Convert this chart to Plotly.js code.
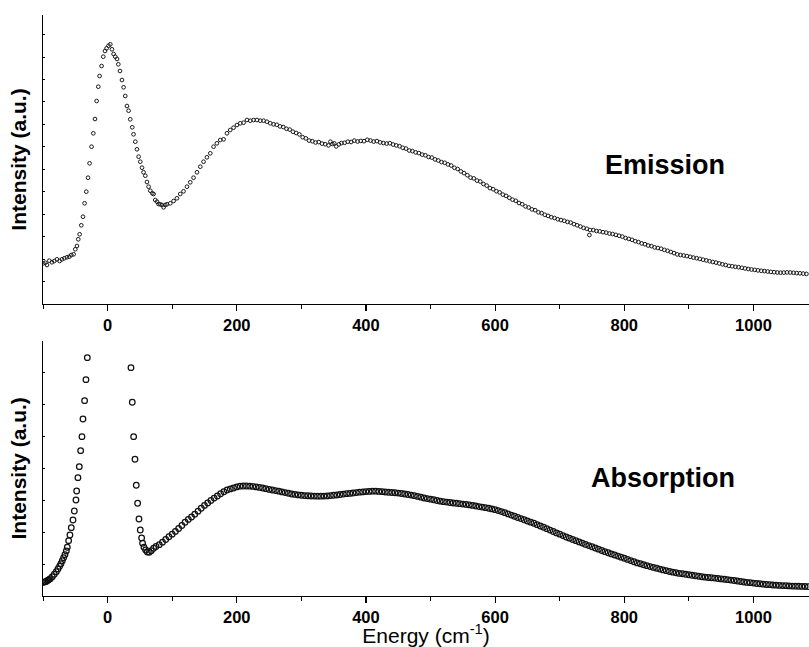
<!DOCTYPE html>
<html>
<head>
<meta charset="utf-8">
<script src="https://cdn.plot.ly/plotly-3.0.1.min.js"></script>
<style>html,body{margin:0;padding:0;background:#fff;}#chart{width:809px;height:647px;}</style>
</head>
<body>
<div id="chart"></div>
<script>
// ---------- Emission spectrum (upper panel) ----------
const emissionEnergy = [
-99.6,-96.4,-93.8,-90.2,-86.1,-82.5,-78.4,-74.3,-70.6,-67,-62.9,-59.3,-56.2,-52.6,-50,-47.4,-45.4,-43.3,-40.7,-38.1,
-35.6,-33,-30.3,-27.9,-24.8,-22.1,-19.5,-17,-14.4,-12.4,-9.3,-6.7,-4,-1.5,1.5,4.2,6.8,9.3,11.9,14.6,
16.6,19.2,22.3,24.8,27.4,30,32.5,35.1,38.2,40.2,42.9,45.5,48,50.6,53.3,55.7,58.4,61,63.5,66.1,
69.2,71.2,73.8,76.5,78.9,81.6,84.2,86.7,89.3,91.9,97.1,102.2,107.4,112.5,117.6,122.9,128,133.1,138.4,143.5,
148.6,153.8,159,164.1,169.3,174.5,179.6,184.8,189.9,195,200.3,205.4,210.5,215.8,220.9,226,231.3,236.4,241.5,246.7,
251.9,257,
262,267,272,277,282,287,292,297,302,307,312,317,322,327,332,337,342,345,348,351,354,358,362,367,372,377,382,387,392,397,
402,407,412,417,422,427,432,437,442,447,452,457,462,467,472,477,482,487,492,497,
502,507,512,517,522,527,532,537,542,547,552,557,562,567,572,577,582,587,592,597,
602,607,612,617,622,627,632,637,642,647,652,657,662,667,672,677,682,687,692,697,
702,707,712,717,722,727,732,737,742,746,747,752,757,762,767,772,777,782,787,792,797,
802,807,812,817,822,827,832,837,842,847,852,857,862,867,872,877,882,887,892,897,
902,907,912,917,922,927,932,937,942,947,952,957,962,967,972,977,982,987,992,997,
1002,1007,1012,1017,1022,1027,1032,1037,1042,1047,1052,1057,1062,1067,1072,1077,1082
];
const emissionIntensity = [
40.7,41.3,39,43.3,41.7,43,44.7,43,44.7,45.7,46.7,47.3,49,49.7,54.7,58,64.7,69.7,78.7,87.3,
100.7,112.3,126.3,140.7,157.3,170.7,185,203,217.3,228,238,247.3,253,255.7,258.3,259.7,254.7,250,247.3,245,
239.7,233,224,216.7,208,198,193.3,184.7,176.7,169.7,162.3,154.7,147.3,142.3,136.3,131.7,128.3,122,117.3,113.3,
110.7,110,104,102.3,100,99.7,99,96.7,99,99.7,100.7,103,105.7,110,112.7,117.3,121.7,126.3,131.7,137.3,
142.3,146.7,150.7,157.3,160.7,164,164.7,170.7,174,176.3,179,180.7,181.3,184,183.3,184,184,183.3,183.3,182.3,
180.7,179.7,
179.2,177.6,177.0,175.2,174.4,172.3,171.0,169.6,166.8,165.6,163.4,162.8,161.5,161.9,160.4,159.8,158.6,162.3,160.0,160.6,157.6,159.6,160.9,161.2,162.3,162.0,163.4,162.5,163.1,162.8,
164.2,163.5,162.4,162.9,161.6,161.0,160.4,160.8,159.5,158.6,157.8,156.2,155.4,153.5,152.9,151.6,150.9,149.4,148.7,147.0,
146.4,144.6,143.5,141.9,141.2,139.6,138.5,136.2,135.0,132.6,130.9,128.8,126.4,125.6,123.4,122.5,120.0,118.4,115.9,114.8,
112.8,111.6,109.4,108.1,106.2,104.3,103.2,101.0,99.8,97.6,96.5,94.6,93.8,91.7,90.9,89.2,88.1,86.8,86.0,84.7,
83.9,83.2,82.1,81.4,79.9,78.7,77.5,76.1,75.2,69.0,74.0,73.9,73.0,72.6,71.8,71.4,70.5,70.0,69.1,68.3,67.4,
66.0,65.1,64.2,62.8,61.9,60.6,59.8,58.5,57.9,56.6,56.0,55.3,54.1,53.2,52.0,50.9,49.6,49.0,48.5,47.9,
47.2,46.4,45.8,45.1,44.3,43.6,42.8,42.0,41.4,40.6,39.7,39.0,38.1,37.7,37.2,36.8,36.2,35.6,35.0,34.5,
34.1,33.6,33.2,32.9,32.5,32.1,31.8,31.5,31.3,31.4,31.6,31.5,31.2,30.9,30.7,30.4,30.1
];

// ---------- Absorption spectrum (lower panel) ----------
const absorptionEnergy = [
-99.5,-97.7,-95.9,-94.1,-92.3,-90.5,-88.7,-85.6,-82.5,-79.4,-76.8,-74.3,-72.2,-70.1,-68.1,-66,-63.9,-62.4,-60.3,-58.3,
-56.2,-53.6,-51.5,-49,-47.9,-45.9,-43.8,-41.7,-39.7,-38.1,-35.6,-33.5,-31.4,
36.2,38.2,40.3,42.4,44.4,46.5,48.6,50.6,52.7,54.2,56.3,58.9,61.5,64.6,67.6,71.3,
75,80,85,90,95,100,105,110,115,120,125,130,135,140,145,150,155,160,165,170,
175,180,185,190,195,200,205,210,215,220,225,230,235,240,245,250,255,260,265,270,
275,280,285,290,295,300,305,310,315,320,325,330,335,340,345,350,355,360,365,370,
375,380,385,390,395,400,405,410,415,420,425,430,435,440,445,450,455,460,465,470,
475,480,485,490,495,500,505,510,515,520,525,530,535,540,545,550,555,560,565,570,
575,580,585,590,595,600,605,610,615,620,625,630,635,640,645,650,655,660,665,670,
675,680,685,690,695,700,705,710,715,720,725,730,735,740,745,750,755,760,765,770,
775,780,785,790,795,800,805,810,815,820,825,830,835,840,845,850,855,860,865,870,
875,880,885,890,895,900,905,910,915,920,925,930,935,940,945,950,955,960,965,970,
975,980,985,990,995,1000,1005,1010,1015,1020,1025,1030,1035,1040,1045,1050,1055,1060,1065,1070,
1075,1080,1085
];
const absorptionIntensity = [
13.7,13.9,14.3,14.9,15.7,16.4,17.3,19.3,21.7,24.3,27,29.7,32.3,35.3,38.3,41.3,45,48.7,55.3,61,
68.3,76,85,96,105,118.3,129.3,145.3,159.3,177,195.3,216.3,238.3,
228.3,193.7,159.3,136.7,110.7,92.7,77,66,58,52.7,48.7,46,44,43.7,45.3,47.7,
49.5,51.3,53.8,56.5,59.2,61.8,64.6,67.5,70.5,73.7,76.6,79,81.7,84.8,87.7,90.6,93,95.5,97.9,100,
102.2,104.2,106,107.1,108,109.1,109.8,110,110,109.8,109.6,109.1,108.6,108,107.3,106.6,106,105.4,104.8,104.1,
103.4,102.7,102,101.6,101.1,100.7,100.4,100.2,100,99.9,99.8,99.8,99.9,100.1,100.4,100.7,101,101.5,101.9,102.3,
102.6,103,103.4,103.8,104.1,104.4,104.6,104.8,104.8,104.6,104.3,104,103.7,103.5,103.2,102.9,102.5,102,101.5,100.9,
100.3,99.6,98.8,98,97.4,96.8,96.2,95.5,94.8,94.3,93.9,93.5,93,92.7,92.3,91.9,91.6,91.1,90.6,90,
89.4,88.9,88.3,87.7,87.1,86.3,85.4,84.4,83.3,82.1,80.8,79.7,78.5,77.4,76.2,75,73.8,72.7,71.3,70,
68.7,67.3,65.9,64.5,63.1,61.8,60.4,59,57.8,56.5,55.3,54.1,52.9,51.6,50.4,49.2,48,46.8,45.5,44.3,
43.2,42.1,41,39.9,38.8,37.7,36.6,35.4,34.2,33.1,32.2,31.2,30.3,29.4,28.6,27.7,26.9,26.1,25.3,24.5,
23.8,23.2,22.6,22.2,21.7,21.2,20.7,20.2,19.7,19.2,18.8,18.5,18.2,17.9,17.5,17.1,16.7,16.3,15.9,15.5,
15,14.5,14,13.6,13.3,12.9,12.5,12.2,11.8,11.5,11.3,11,10.8,10.6,10.4,10.3,10.1,9.9,9.8,9.7,
9.6,9.5,9.4
];

const xTickVals = [0, 200, 400, 600, 800, 1000];
const xTickText = ['0', '200', '400', '600', '800', '1000'];
const panelLabels = ['Emission', 'Absorption'];
const yTitle = 'Intensity (a.u.)';
const xTitle = 'Energy (cm<sup>-1</sup>)';

const FONT = 'Liberation Sans, Arial, Helvetica, sans-serif';

const traces = [
  {
    x: emissionEnergy, y: emissionIntensity, xaxis: 'x', yaxis: 'y',
    type: 'scatter', mode: 'markers', name: panelLabels[0],
    marker: {symbol: 'circle-open', size: 3.7, color: '#1a1a1a', line: {width: 1, color: '#1a1a1a'}},
    hoverinfo: 'x+y'
  },
  {
    x: absorptionEnergy, y: absorptionIntensity, xaxis: 'x2', yaxis: 'y2',
    type: 'scatter', mode: 'markers', name: panelLabels[1],
    marker: {symbol: 'circle-open', size: 5.6, color: '#111', line: {width: 1.25, color: '#111'}},
    hoverinfo: 'x+y'
  }
];

const xCommon = {
  range: [-100, 1086], showgrid: false, zeroline: false,
  showline: true, linecolor: '#000', linewidth: 1.2, mirror: false,
  ticks: 'outside', ticklen: 6, tickwidth: 1.2, tickcolor: '#000',
  tickmode: 'array', tickvals: xTickVals, ticktext: xTickText,
  minor: {tickmode: 'linear', tick0: 100, dtick: 200, ticks: 'outside', ticklen: 4, tickwidth: 1, tickcolor: '#000', showgrid: false},
  tickfont: {family: FONT, size: 16.5, color: '#000', weight: 700},
  automargin: false
};

const yCommon = {
  showgrid: false, zeroline: false, showline: true, linecolor: '#000', linewidth: 1.2,
  ticks: 'inside', ticklen: 2, tickwidth: 1, tickcolor: '#000', showticklabels: false,
  tickmode: 'linear', tick0: 0, automargin: false
};

const layout = {
  width: 809, height: 647,
  margin: {l: 43, r: 0, t: 0, b: 0},
  paper_bgcolor: '#fff', plot_bgcolor: '#fff',
  showlegend: false,
  font: {family: FONT, color: '#000'},
  xaxis: Object.assign({}, xCommon, {anchor: 'y', domain: [0, 1]}),
  xaxis2: Object.assign({}, xCommon, {anchor: 'y2', domain: [0, 1],
    title: {text: xTitle, font: {family: FONT, size: 21, color: '#000'}, standoff: 2}}),
  yaxis: Object.assign({}, yCommon, {domain: [0.53014, 0.97682], range: [0, 289], dtick: 22.45,
    title: {text: yTitle, font: {family: FONT, size: 21, color: '#000', weight: 700}, standoff: 9}}),
  yaxis2: Object.assign({}, yCommon, {domain: [0.07883, 0.47342], range: [0, 255.3], dtick: 31.9,
    title: {text: yTitle, font: {family: FONT, size: 21, color: '#000', weight: 700}, standoff: 9}}),
  annotations: [
    {text: panelLabels[0], xref: 'paper', yref: 'paper', x: 0.812, y: 0.745, xanchor: 'center', yanchor: 'middle',
     showarrow: false, font: {family: FONT, size: 27, color: '#000', weight: 700}},
    {text: panelLabels[1], xref: 'paper', yref: 'paper', x: 0.809, y: 0.261, xanchor: 'center', yanchor: 'middle',
     showarrow: false, font: {family: FONT, size: 27, color: '#000', weight: 700}}
  ]
};

Plotly.newPlot('chart', traces, layout, {staticPlot: true, displayModeBar: false});
</script>
</body>
</html>
